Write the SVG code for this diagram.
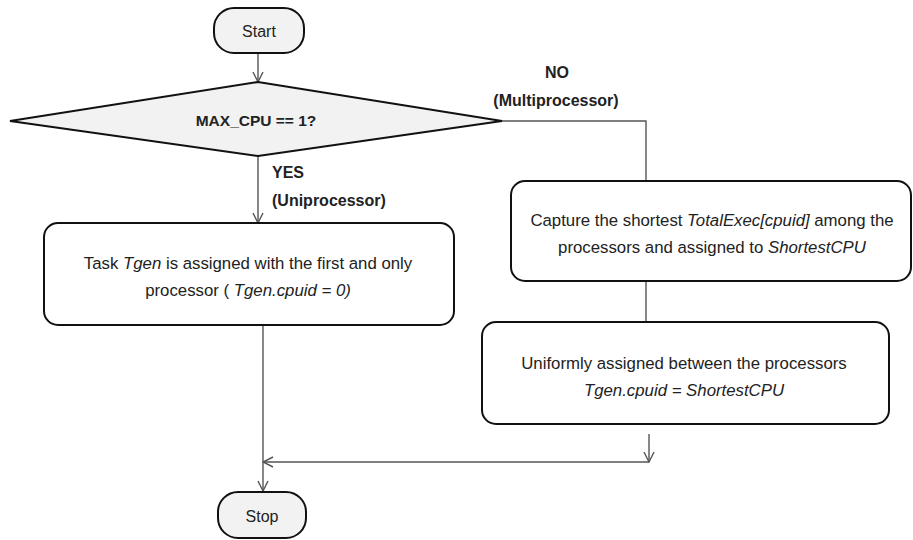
<svg xmlns="http://www.w3.org/2000/svg" width="913" height="540" viewBox="0 0 913 540">
<style>
.term{fill:#f2f2f2;stroke:#111;stroke-width:2}
.box{fill:#fff;stroke:#111;stroke-width:2}
.conn{fill:none;stroke:#555;stroke-width:1.4}
text{font-family:"Liberation Sans","Open Sans",sans-serif;fill:#222;font-size:16.8px;text-anchor:middle}
.b{font-weight:bold;font-size:16px}
.lbl{text-anchor:start}
.i{font-style:italic}
.t{font-size:16px}
</style>
<defs>
<marker id="arr" viewBox="0 0 12 12" refX="11" refY="6" markerWidth="12" markerHeight="12" markerUnits="userSpaceOnUse" orient="auto">
<path d="M1,1 L11,6 L1,11" fill="none" stroke="#555" stroke-width="1.4"/>
</marker>
</defs>
<rect width="913" height="540" fill="#fff"/>
<g id="connectors">
<line class="conn" x1="258" y1="53" x2="258" y2="82" marker-end="url(#arr)"/>
<line class="conn" x1="258" y1="156" x2="258" y2="223" marker-end="url(#arr)"/>
<polyline class="conn" points="502,121 646,121 646,181"/>
<line class="conn" x1="646" y1="281" x2="646" y2="322"/>
<line class="conn" x1="649" y1="434" x2="649" y2="462" marker-end="url(#arr)"/>
<line class="conn" x1="649" y1="462" x2="263" y2="462" marker-end="url(#arr)"/>
<line class="conn" x1="263" y1="325" x2="263" y2="491" marker-end="url(#arr)"/>
<text class="b" x="557" y="78">NO</text>
<text class="b" x="556" y="106">(Multiprocessor)</text>
<text class="b lbl" x="272" y="178">YES</text>
<text class="b lbl" x="272" y="206">(Uniprocessor)</text>
</g>
<g id="start">
<rect class="term" x="214" y="8" width="90" height="45" rx="20"/>
<text class="t" x="259" y="37">Start</text>
</g>
<g id="decision">
<polygon class="term" points="10,121 258,82 502,121 258,156"/>
<text class="b" x="256" y="126" style="font-size:15.5px">MAX_CPU == 1?</text>
</g>
<g id="uniprocessor">
<rect class="box" x="44" y="223" width="410" height="102" rx="14"/>
<text x="248" y="269">Task <tspan class="i">Tgen</tspan> is assigned with the first and only</text>
<text x="248" y="296">processor ( <tspan class="i">Tgen.cpuid = 0)</tspan></text>
</g>
<g id="capture">
<rect class="box" x="511" y="181" width="400" height="100" rx="14"/>
<text x="712" y="226">Capture the shortest <tspan class="i">TotalExec[cpuid]</tspan> among the</text>
<text x="712" y="253">processors and assigned to <tspan class="i">ShortestCPU</tspan></text>
</g>
<g id="assign">
<rect class="box" x="482" y="322" width="407" height="102" rx="14"/>
<text x="684" y="369">Uniformly assigned between the processors</text>
<text x="684" y="396" class="i">Tgen.cpuid = ShortestCPU</text>
</g>
<g id="stop">
<rect class="term" x="218" y="492" width="88" height="46" rx="20"/>
<text class="t" x="262" y="522">Stop</text>
</g>
</svg>
